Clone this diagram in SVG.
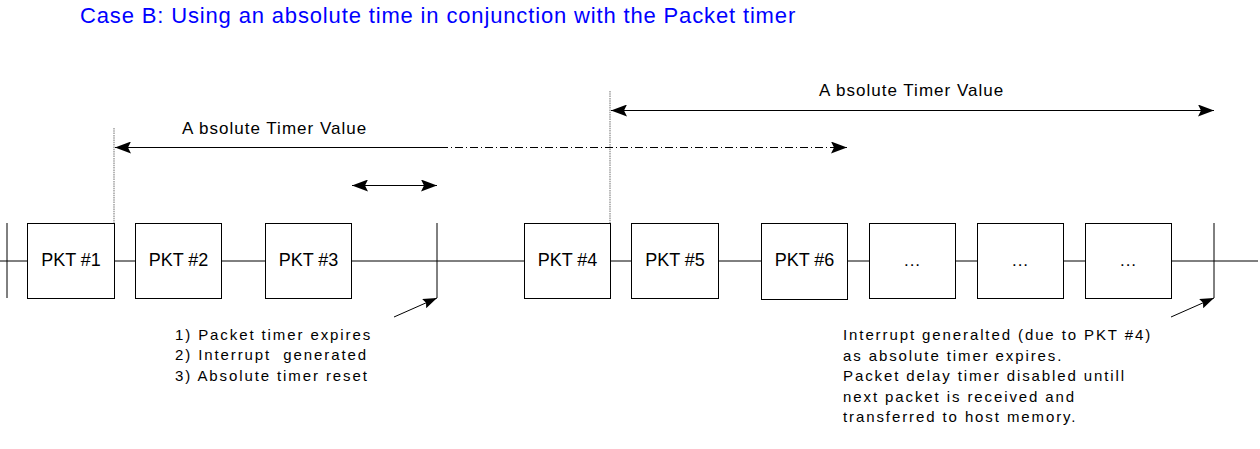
<svg xmlns="http://www.w3.org/2000/svg" width="1260" height="449" viewBox="0 0 1260 449">
<defs>
<style>
text{font-family:"Liberation Sans",Arial,sans-serif;fill:#000}
.title{font-size:22px;fill:#0000ff;letter-spacing:0.85px}
.pk{font-size:18px}
.lbl{font-size:17px;letter-spacing:1px}
.box{fill:#fff;stroke:#000;stroke-width:1}
.ln{stroke:#000;stroke-width:1;fill:none}
.guide{stroke:#888;stroke-width:1.2;stroke-dasharray:1.5 0.8;fill:none}
.note{font-size:15px;letter-spacing:1.9px}
</style>
<marker id="ah" viewBox="0 0 16 12" refX="16" refY="6" markerWidth="16" markerHeight="12" markerUnits="userSpaceOnUse" orient="auto-start-reverse">
<path d="M0,0 L16,6 L0,12 L3,6 Z" fill="#000"/>
</marker>
<marker id="ahs" viewBox="0 0 14 10" refX="14" refY="5" markerWidth="14" markerHeight="10" markerUnits="userSpaceOnUse" orient="auto-start-reverse">
<path d="M0,0 L14,5 L0,10 L2,5 Z" fill="#000"/>
</marker>
</defs>
<rect width="1260" height="449" fill="#fff"/>
<text class="title" x="80" y="23">Case B: Using an absolute time in conjunction with the Packet timer</text>

<g id="connectors">
<line class="ln" x1="0" y1="261" x2="1258" y2="261"/>
<line class="ln" x1="7" y1="223" x2="7" y2="298"/>
<line class="ln" x1="437" y1="223" x2="437" y2="298"/>
<line class="ln" x1="1214" y1="223" x2="1214" y2="298"/>
<line class="guide" x1="114" y1="128" x2="114" y2="223"/>
<line class="guide" x1="610" y1="91" x2="610" y2="223"/>
<line class="ln" x1="611" y1="110.5" x2="1214" y2="110.5" marker-start="url(#ah)" marker-end="url(#ah)"/>
<line class="ln" x1="115" y1="147.5" x2="440" y2="147.5" marker-start="url(#ah)"/>
<line class="ln" x1="440" y1="147.5" x2="847" y2="147.5" stroke-dasharray="8 3 1 3" marker-end="url(#ah)"/>
<line class="ln" x1="352" y1="185.5" x2="437" y2="185.5" marker-start="url(#ah)" marker-end="url(#ah)"/>
<line class="ln" x1="394" y1="317" x2="437" y2="298" marker-end="url(#ahs)"/>
<line class="ln" x1="1171" y1="317" x2="1214" y2="298" marker-end="url(#ahs)"/>
</g>

<g id="pkt1"><rect class="box" x="27.5" y="223.5" width="87" height="75"/><text class="pk" x="71" y="266" text-anchor="middle">PKT #1</text></g>
<g id="pkt2"><rect class="box" x="135.5" y="223.5" width="86" height="75"/><text class="pk" x="178.5" y="266" text-anchor="middle">PKT #2</text></g>
<g id="pkt3"><rect class="box" x="265.5" y="223.5" width="86" height="75"/><text class="pk" x="308.5" y="266" text-anchor="middle">PKT #3</text></g>
<g id="pkt4"><rect class="box" x="524.5" y="223.5" width="86" height="75"/><text class="pk" x="567.5" y="266" text-anchor="middle">PKT #4</text></g>
<g id="pkt5"><rect class="box" x="631.5" y="223.5" width="87" height="75"/><text class="pk" x="675" y="266" text-anchor="middle">PKT #5</text></g>
<g id="pkt6"><rect class="box" x="761.5" y="223.5" width="86" height="76"/><text class="pk" x="804.5" y="266" text-anchor="middle">PKT #6</text></g>
<g id="pkt7"><rect class="box" x="869.5" y="223.5" width="86" height="75"/><text class="lbl" x="912.5" y="266" text-anchor="middle">...</text></g>
<g id="pkt8"><rect class="box" x="977.5" y="223.5" width="86" height="75"/><text class="lbl" x="1020.5" y="266" text-anchor="middle">...</text></g>
<g id="pkt9"><rect class="box" x="1085.5" y="223.5" width="86" height="75"/><text class="lbl" x="1128.5" y="266" text-anchor="middle">...</text></g>

<g id="labels">
<text class="lbl" x="819" y="96">A bsolute Timer Value</text>
<text class="lbl" x="182" y="134">A bsolute Timer Value</text>
</g>

<g id="note1">
<text class="note" x="175" y="339.5">1) Packet timer expires</text>
<text class="note" x="175" y="360" xml:space="preserve">2) Interrupt  generated</text>
<text class="note" x="175" y="380.5">3) Absolute timer reset</text>
</g>
<g id="note2">
<text class="note" x="843" y="340">Interrupt generalted (due to PKT #4)</text>
<text class="note" x="843" y="360.5">as absolute timer expires.</text>
<text class="note" x="843" y="381">Packet delay timer disabled untill</text>
<text class="note" x="843" y="401.5">next packet is received and</text>
<text class="note" x="843" y="422">transferred to host memory.</text>
</g>
</svg>
